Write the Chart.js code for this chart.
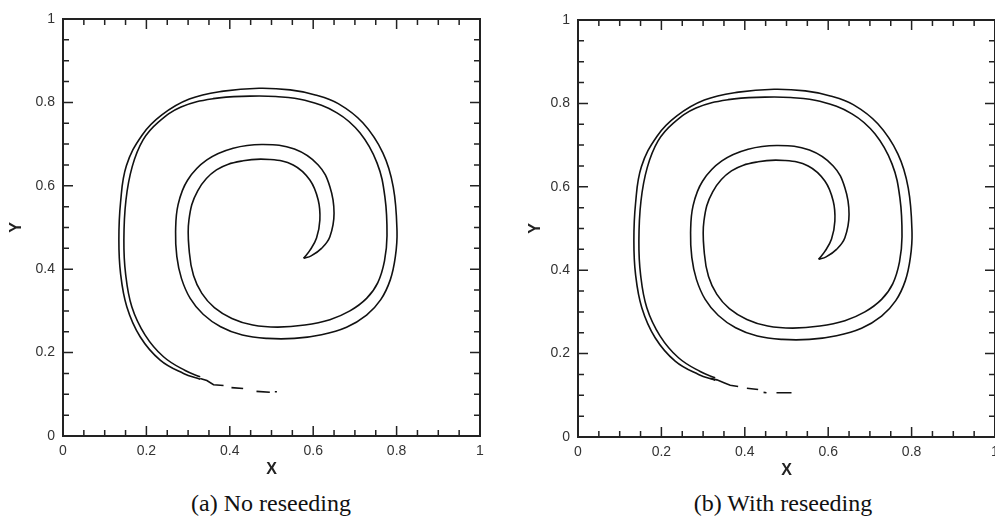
<!DOCTYPE html>
<html>
<head>
<meta charset="utf-8">
<script src="https://cdn.jsdelivr.net/npm/chart.js@4.4.0/dist/chart.umd.min.js"></script>
<style>
  body { margin: 0; background: #fff; width: 995px; height: 518px; overflow: hidden; position: relative; }
  canvas { position: absolute; top: 0; }
  #cA { left: 0; }
  #cB { left: 500px; }
  .cap { position: absolute; top: 491px; font-family: 'Liberation Serif', serif; font-size: 24px; color: #111;
         white-space: nowrap; transform: translateX(-50%); line-height: 1; }
</style>
</head>
<body>
<canvas id="cA" width="495" height="481"></canvas>
<canvas id="cB" width="495" height="482"></canvas>
<div class="cap" style="left:271px">(a) No reseeding</div>
<div class="cap" style="left:783px">(b) With reseeding</div>
<script>
// graduations des axes
var majorTicks = [0.2, 0.4, 0.6, 0.8];
var minorTicks = [0.05, 0.1, 0.15, 0.25, 0.3, 0.35, 0.45, 0.5, 0.55, 0.65, 0.7, 0.75, 0.85, 0.9, 0.95];

// bord extérieur du filament (de la queue jusqu'à la tête)
var outerEdge = [
  [0.329,0.136],[0.289,0.150],[0.233,0.182],[0.185,0.238],[0.153,0.310],[0.138,0.390],
  [0.134,0.470],[0.138,0.560],[0.152,0.648],[0.190,0.722],[0.237,0.770],[0.303,0.808],
  [0.385,0.827],[0.470,0.834],[0.545,0.830],[0.605,0.818],[0.660,0.797],[0.719,0.751],
  [0.767,0.679],[0.792,0.597],[0.801,0.490],[0.797,0.430],[0.785,0.375],[0.762,0.327],
  [0.728,0.290],[0.680,0.261],[0.620,0.243],[0.555,0.234],[0.490,0.234],[0.430,0.242],
  [0.378,0.262],[0.336,0.292],[0.305,0.330],[0.284,0.378],[0.273,0.430],[0.270,0.490],
  [0.276,0.555],[0.299,0.614],[0.345,0.662],[0.408,0.690],[0.480,0.699],[0.555,0.688],
  [0.612,0.650],[0.640,0.598],[0.650,0.534],[0.640,0.478],[0.620,0.450],[0.595,0.432],
  [0.577,0.426]
];

// bord intérieur du filament
var innerEdge = [
  [0.329,0.142],[0.293,0.157],[0.241,0.190],[0.197,0.242],[0.165,0.310],[0.150,0.390],
  [0.146,0.470],[0.151,0.566],[0.166,0.646],[0.192,0.710],[0.228,0.752],[0.283,0.789],
  [0.360,0.809],[0.448,0.815],[0.510,0.814],[0.580,0.805],[0.657,0.775],[0.712,0.727],
  [0.753,0.655],[0.772,0.573],[0.777,0.480],[0.771,0.420],[0.755,0.368],[0.728,0.330],
  [0.688,0.300],[0.640,0.279],[0.580,0.266],[0.515,0.261],[0.455,0.266],[0.405,0.282],
  [0.363,0.308],[0.333,0.342],[0.313,0.385],[0.303,0.440],[0.302,0.518],[0.323,0.588],
  [0.368,0.638],[0.432,0.660],[0.496,0.663],[0.552,0.650],[0.592,0.614],[0.612,0.566],
  [0.616,0.518],[0.608,0.475],[0.592,0.445],[0.577,0.426]
];

// morceaux de la queue (null = coupure)
var tailA = [
  [0.329,0.138],[0.345,0.133],[0.361,0.123],[0.385,0.121], null,
  [0.404,0.116],[0.432,0.114], null,
  [0.464,0.107],[0.496,0.105], null,
  [0.508,0.106],[0.513,0.106]
];
var tailB = [
  [0.317,0.141],[0.333,0.137],[0.350,0.130],[0.365,0.124],[0.384,0.121], null,
  [0.405,0.117],[0.432,0.114], null,
  [0.445,0.107],[0.452,0.106], null,
  [0.476,0.106],[0.512,0.106]
];

function toPoints(pts) {
  return pts.map(function(p) { return p ? { x: p[0], y: p[1] } : { x: null, y: null }; });
}

// cadre + graduations tournées vers l'intérieur
var cadre = {
  id: 'cadre',
  afterDatasetsDraw: function(chart) {
    var ctx = chart.ctx, a = chart.chartArea, sx = chart.scales.x, sy = chart.scales.y;
    function marks(list, len) {
      list.forEach(function(v) {
        var px = sx.getPixelForValue(v), py = sy.getPixelForValue(v);
        ctx.moveTo(px, a.bottom); ctx.lineTo(px, a.bottom - len);
        ctx.moveTo(px, a.top); ctx.lineTo(px, a.top + len);
        ctx.moveTo(a.left, py); ctx.lineTo(a.left + len, py);
        ctx.moveTo(a.right, py); ctx.lineTo(a.right - len, py);
      });
    }
    ctx.save();
    ctx.strokeStyle = '#222';
    ctx.lineWidth = 1.5;
    ctx.beginPath();
    marks(majorTicks, 10);
    marks(minorTicks, 6);
    ctx.stroke();
    ctx.lineWidth = 2;
    ctx.strokeRect(a.left, a.top, a.right - a.left, a.bottom - a.top);
    ctx.restore();
  }
};

function makeChart(id, tail, padding, yWidth, yTitlePad) {
  var ctx = document.getElementById(id).getContext('2d');
  var ligne = { showLine: true, borderColor: '#111', borderWidth: 1.6, pointRadius: 0, fill: false };
  return new Chart(ctx, {
    type: 'scatter',
    data: {
      datasets: [
        Object.assign({ data: toPoints(outerEdge), tension: 0.4 }, ligne),
        Object.assign({ data: toPoints(innerEdge), tension: 0.4 }, ligne),
        Object.assign({ data: toPoints(tail), tension: 0, spanGaps: false, borderWidth: 1.8 }, ligne)
      ]
    },
    options: {
      responsive: false,
      animation: false,
      devicePixelRatio: 1,
      layout: { padding: padding },
      plugins: { legend: { display: false }, tooltip: { enabled: false } },
      scales: {
        x: {
          type: 'linear', min: 0, max: 1,
          grid: { display: false, drawTicks: false },
          border: { display: false },
          ticks: {
            stepSize: 0.2, padding: 7, color: '#333', maxRotation: 0,
            font: { family: 'Liberation Sans', size: 14 },
            callback: function(v) { return String(Math.round(v * 10) / 10); }
          },
          title: { display: true, text: 'X', color: '#222', padding: { top: 0, bottom: 2 },
                   font: { family: 'Liberation Sans', size: 16, weight: 'bold' } },
          afterFit: function(s) { s.height = 45; s.paddingLeft = 0; s.paddingRight = 0; }
        },
        y: {
          type: 'linear', min: 0, max: 1,
          grid: { display: false, drawTicks: false },
          border: { display: false },
          ticks: {
            stepSize: 0.2, padding: 8, color: '#333',
            font: { family: 'Liberation Sans', size: 14 },
            callback: function(v) { return String(Math.round(v * 10) / 10); }
          },
          title: { display: true, text: 'Y', color: '#222', padding: { top: yTitlePad, bottom: 0 },
                   font: { family: 'Liberation Sans', size: 16, weight: 'bold' } },
          afterFit: function(s) { s.width = yWidth; s.paddingTop = 0; s.paddingBottom = 0; }
        }
      }
    },
    plugins: [cadre]
  });
}

makeChart('cA', tailA, { left: 0, top: 19, right: 15, bottom: 0 }, 63, 7);
makeChart('cB', tailB, { left: 0, top: 20, right: 0, bottom: 0 }, 78, 26);
</script>
</body>
</html>
